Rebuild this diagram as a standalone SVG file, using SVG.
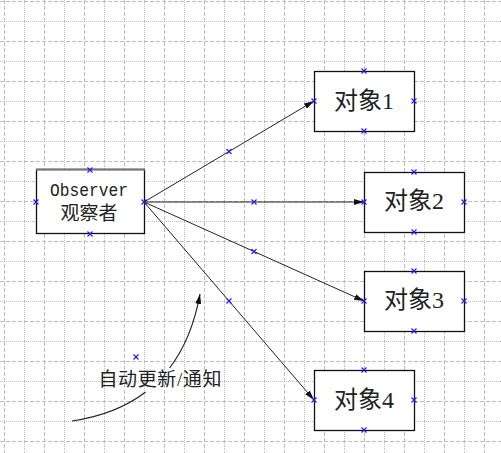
<svg xmlns="http://www.w3.org/2000/svg" width="501" height="453" viewBox="0 0 501 453">
<defs>
<style>
.gd{stroke:#bdbdbd;stroke-width:1;stroke-dasharray:4,2;fill:none}
.gt{stroke:#bdbdbd;stroke-width:1;stroke-dasharray:1,1;fill:none}
.box{fill:#fff;stroke:#111;stroke-width:1.3}
.edge{stroke:#222;stroke-width:1;fill:none;marker-end:url(#ah)}
.cur{stroke:#222;stroke-width:1.2;fill:none}
.lbl{font-family:"Liberation Serif","Noto Sans CJK SC",serif;fill:#222;text-anchor:middle}
.mono{font-family:"Liberation Mono","Noto Sans CJK SC",monospace;fill:#222;text-anchor:middle}
.mk{stroke:#1a1aff;stroke-width:1.1;fill:none}
</style>
<marker id="ah" viewBox="0 0 10 6" refX="10" refY="3" markerWidth="10" markerHeight="6" markerUnits="userSpaceOnUse" orient="auto">
<path d="M0,0 L10,3 L0,6 Z" fill="#111"/>
</marker>
<path id="x" d="M-2.5,-2.5 L2.5,2.5 M-2.5,2.5 L2.5,-2.5"/>
</defs>
<rect width="501" height="453" fill="#fff"/>
<g id="grid">
<path class="gd" d="M4.5,0V453M44.5,0V453M84.5,0V453M124.5,0V453M164.5,0V453M204.5,0V453M244.5,0V453M284.5,0V453M324.5,0V453M364.5,0V453M404.5,0V453M444.5,0V453M484.5,0V453"/>
<path class="gt" d="M24.5,0V453M64.5,0V453M104.5,0V453M144.5,0V453M184.5,0V453M224.5,0V453M264.5,0V453M304.5,0V453M344.5,0V453M384.5,0V453M424.5,0V453M464.5,0V453"/>
<path class="gd" d="M0,1.5H501M0,41.5H501M0,81.5H501M0,121.5H501M0,161.5H501M0,201.5H501M0,241.5H501M0,281.5H501M0,321.5H501M0,361.5H501M0,401.5H501M0,441.5H501"/>
<path class="gt" d="M0,21.5H501M0,61.5H501M0,101.5H501M0,141.5H501M0,181.5H501M0,221.5H501M0,261.5H501M0,301.5H501M0,341.5H501M0,381.5H501M0,421.5H501"/>
</g>
<g id="connectors">
<line class="edge" x1="144" y1="202" x2="314" y2="101"/>
<line class="edge" x1="144" y1="202" x2="364" y2="202"/>
<line class="edge" x1="144" y1="202" x2="364" y2="301"/>
<line class="edge" x1="144" y1="202" x2="314" y2="400"/>
<path class="cur" d="M72,421 Q116.2,414.5 145.6,392"/>
<path class="cur" d="M169.6,368 Q191.9,338.7 200,294" marker-end="url(#ah)"/>
<g class="mk">
<use href="#x" x="229" y="151.5"/>
<use href="#x" x="254" y="202"/>
<use href="#x" x="254" y="251.5"/>
<use href="#x" x="229" y="301"/>
<use href="#x" x="136" y="357"/>
</g>
</g>
<g id="observer">
<rect class="box" x="36.5" y="169.5" width="108" height="64"/>
<line x1="36" y1="169.5" x2="145" y2="169.5" stroke="#777" stroke-width="2"/>
<text class="mono" x="89" y="196" font-size="18" textLength="78" lengthAdjust="spacingAndGlyphs">Observer</text>
<text class="lbl" x="89" y="220" font-size="19">观察者</text>
<g class="mk"><use href="#x" x="90" y="170"/><use href="#x" x="90" y="234"/><use href="#x" x="36" y="202"/><use href="#x" x="144" y="202"/></g>
</g>
<g id="obj1">
<rect class="box" x="314.5" y="71.5" width="100" height="60"/>
<text class="lbl" x="364" y="109" font-size="24">对象1</text>
<g class="mk"><use href="#x" x="364" y="71"/><use href="#x" x="364" y="131"/><use href="#x" x="314" y="101"/><use href="#x" x="414" y="101"/></g>
</g>
<g id="obj2">
<rect class="box" x="364.5" y="172.5" width="100" height="60"/>
<text class="lbl" x="414" y="209" font-size="24">对象2</text>
<g class="mk"><use href="#x" x="414" y="172"/><use href="#x" x="414" y="232"/><use href="#x" x="364" y="202"/><use href="#x" x="464" y="202"/></g>
</g>
<g id="obj3">
<rect class="box" x="364.5" y="271.5" width="100" height="60"/>
<text class="lbl" x="414" y="308" font-size="24">对象3</text>
<g class="mk"><use href="#x" x="414" y="271"/><use href="#x" x="414" y="331"/><use href="#x" x="364" y="301"/><use href="#x" x="464" y="301"/></g>
</g>
<g id="obj4">
<rect class="box" x="314.5" y="370.5" width="100" height="60"/>
<text class="lbl" x="364" y="408" font-size="24">对象4</text>
<g class="mk"><use href="#x" x="364" y="370"/><use href="#x" x="364" y="430"/><use href="#x" x="314" y="400"/><use href="#x" x="414" y="400"/></g>
</g>
<g id="label">
<text class="lbl" x="160" y="386" font-size="19" textLength="123" lengthAdjust="spacing">自动更新/通知</text>
</g>
</svg>
